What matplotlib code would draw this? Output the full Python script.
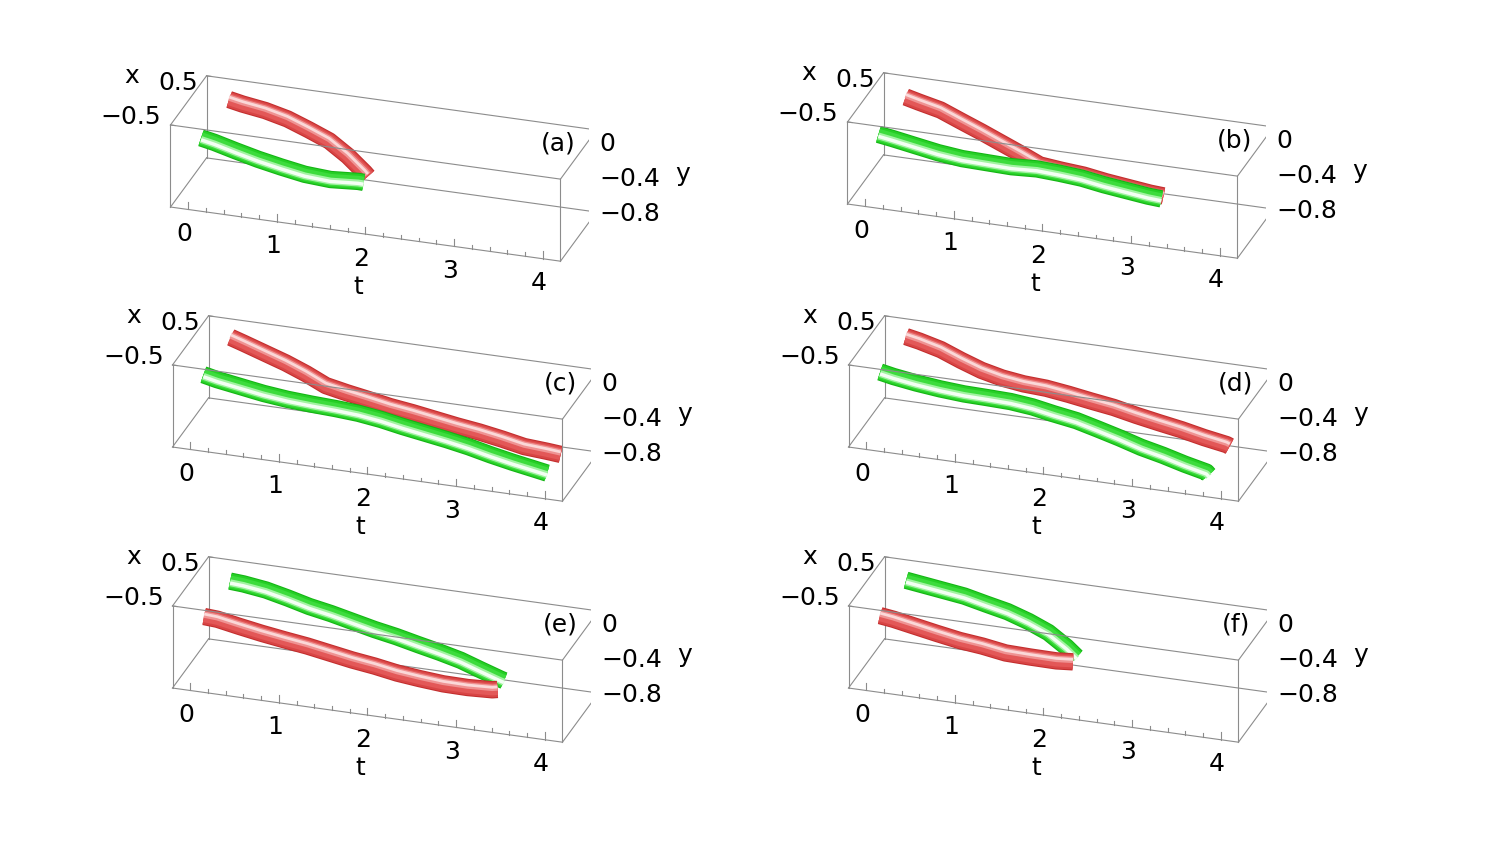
import numpy as np
import matplotlib
matplotlib.use("Agg")
import matplotlib.pyplot as plt
from mpl_toolkits.mplot3d import proj3d

# six panels, two tubes each; both tubes share t and y, they sit at x = +h and x = -h
panel_names = ['(a)', '(b)', '(c)', '(d)', '(e)', '(f)']
back_tube = ['red', 'red', 'red', 'red', 'green', 'green']   # tube at x = +h

t_vals = [
    [0.1, 0.25, 0.5, 0.75, 1.0, 1.25, 1.5, 1.75, 1.80],
    [0.1, 0.25, 0.5, 0.75, 1.0, 1.25, 1.5, 1.75, 2.0, 2.25, 2.5, 2.75, 3.0, 3.15],
    [0.1, 0.25, 0.5, 0.75, 1.0, 1.25, 1.5, 1.75, 2.0, 2.25, 2.5, 2.75, 3.0, 3.25, 3.5, 3.75, 3.90],
    [0.1, 0.25, 0.5, 0.75, 1.0, 1.25, 1.5, 1.75, 2.0, 2.25, 2.5, 2.75, 3.0, 3.25, 3.5, 3.75, 3.78],
    [0.1, 0.25, 0.5, 0.75, 1.0, 1.25, 1.5, 1.75, 2.0, 2.25, 2.5, 2.75, 3.0, 3.25, 3.30],
    [0.1, 0.25, 0.5, 0.75, 1.0, 1.25, 1.5, 1.75, 2.0, 2.15],
]
half_gap = [
    [0.39, 0.39, 0.41, 0.41, 0.38, 0.34, 0.24, 0.09, 0.06],
    [0.38, 0.37, 0.36, 0.32, 0.27, 0.20, 0.13, 0.04, 0.03, 0.03, 0.03, 0.03, 0.03, 0.03],
    [0.38, 0.37, 0.34, 0.31, 0.26, 0.19, 0.16, 0.14, 0.13, 0.14, 0.14, 0.14, 0.15, 0.16, 0.16, 0.18, 0.19],
    [0.36, 0.36, 0.34, 0.29, 0.24, 0.20, 0.18, 0.19, 0.20, 0.20, 0.22, 0.23, 0.25, 0.26, 0.27, 0.28, 0.29],
    [0.36, 0.36, 0.37, 0.36, 0.34, 0.33, 0.32, 0.31, 0.30, 0.29, 0.27, 0.24, 0.18, 0.11, 0.09],
    [0.36, 0.36, 0.37, 0.38, 0.37, 0.35, 0.32, 0.25, 0.14, 0.05],
]
y_vals = [
    [-0.06, -0.09, -0.14, -0.20, -0.27, -0.34, -0.42, -0.49, -0.51],
    [-0.06, -0.09, -0.14, -0.21, -0.27, -0.32, -0.37, -0.41, -0.43, -0.45, -0.49, -0.52, -0.55, -0.56],
    [-0.03, -0.07, -0.13, -0.19, -0.25, -0.31, -0.34, -0.37, -0.41, -0.45, -0.49, -0.53, -0.57, -0.62, -0.67, -0.70, -0.72],
    [-0.01, -0.04, -0.09, -0.15, -0.20, -0.23, -0.25, -0.27, -0.31, -0.35, -0.40, -0.46, -0.52, -0.57, -0.63, -0.68, -0.70],
    [-0.05, -0.06, -0.10, -0.15, -0.20, -0.24, -0.29, -0.34, -0.38, -0.43, -0.47, -0.51, -0.55, -0.58, -0.58],
    [-0.04, -0.06, -0.10, -0.14, -0.19, -0.23, -0.29, -0.34, -0.41, -0.45],
]

t_ticks = [0, 1, 2, 3, 4]
x_ticks = [-0.5, 0.5]
y_ticks = [0, -0.4, -0.8]
t_lim = (-0.2, 4.2)
x_lim = (-0.5, 0.5)
y_lim = (-0.824, 0.106)

W, H = 1495, 843
fig = plt.figure(figsize=(W / 100, H / 100), dpi=100)

# pixel centre of each projected box
box_centres = [(383.5, 168.5), (1060.5, 165.5), (385.5, 408.5),
               (1061.5, 408.5), (385.5, 649.5), (1061.5, 649.5)]
box_width = 426

# stacked strokes that fake the shaded tube: colour, width (pt), vertical shift
tube_layers = {
    'red': [('#c22e2e', 12.5, 0.0), ('#d84545', 11.0, 0.0), ('#e35858', 8.6, 0.004),
            ('#ef9393', 4.6, 0.022), ('#fbd8d8', 2.0, 0.028)],
    'green': [('#14b414', 12.5, 0.0), ('#25cf25', 11.0, 0.0), ('#3ddc3d', 8.6, -0.004),
              ('#a2f3a2', 5.0, -0.018), ('#f4fff4', 2.5, -0.022)],
}
edge_kw = dict(color='#8c8c8c', lw=0.8)
txt_kw = dict(fontsize=18, family='DejaVu Sans')


def fmt(v):
    return f"{v:g}".replace('-', '\u2212')


def fit_box(ax, centre):
    corners = np.array([(a, b, c) for a in t_lim for b in x_lim for c in y_lim])
    fig.canvas.draw()
    X2, Y2, _ = proj3d.proj_transform(corners[:, 0], corners[:, 1], corners[:, 2], ax.get_proj())
    pts = ax.transData.transform(np.column_stack([X2, Y2]))
    bb = ax.get_position()
    cx, cy = (bb.x0 + bb.width / 2) * W, (bb.y0 + bb.height / 2) * H
    s = box_width / (pts[:, 0].max() - pts[:, 0].min())
    size = bb.width * W * s
    mx, my = pts.mean(axis=0)
    ncx = centre[0] - (mx - cx) * s
    ncy = (H - centre[1]) - (my - cy) * s
    ax.set_position([(ncx - size / 2) / W, (ncy - size / 2) / H, size / W, size / H])


def label(ax, t, x, y, s, dx, dy, **kw):
    X2, Y2, _ = proj3d.proj_transform(t, x, y, ax.get_proj())
    ax.annotate(s, xy=(X2, Y2), xycoords='data', xytext=(dx, dy),
                textcoords='offset pixels', annotation_clip=False, **txt_kw, **kw)


for i in range(6):
    cxp, cyp = box_centres[i]
    ax = fig.add_axes([(cxp - 280) / W, 1 - (cyp + 280) / H, 560 / W, 560 / H],
                      projection='3d', computed_zorder=False)
    ax.set_proj_type('ortho')
    ax.view_init(elev=25.8, azim=-72.3)
    ax.set_box_aspect((4.49, 1.30, 1.0))
    ax.set_axis_off()
    ax.set_facecolor('none')

    t = np.array(t_vals[i])
    h = np.array(half_gap[i])
    y = np.array(y_vals[i])
    front = 'green' if back_tube[i] == 'red' else 'red'
    z = 2
    for name, xs in [(back_tube[i], h), (front, -h)]:
        for col, lw, dy in tube_layers[name]:
            ax.plot(t, xs, y + dy, color=col, lw=lw, solid_capstyle='butt',
                    solid_joinstyle='round', zorder=z)
            z += 1

    # box edges; the three meeting at the hidden corner go behind the tubes
    hidden = (t_lim[0], x_lim[1], y_lim[0])
    for a in t_lim:
        for b in x_lim:
            ax.plot([a, a], [b, b], y_lim, zorder=1 if (a, b) == hidden[:2] else 20, **edge_kw)
    for a in t_lim:
        for c in y_lim:
            ax.plot([a, a], x_lim, [c, c], zorder=1 if (a, c) == (hidden[0], hidden[2]) else 20, **edge_kw)
    for b in x_lim:
        for c in y_lim:
            ax.plot(t_lim, [b, b], [c, c], zorder=1 if (b, c) == hidden[1:] else 20, **edge_kw)

    # t ticks on the front bottom edge
    for k in range(0, 21):
        tv = k * 0.2
        ln = 0.085 if k % 5 == 0 else 0.045
        ax.plot([tv, tv], [x_lim[0]] * 2, [y_lim[0], y_lim[0] + ln], zorder=20, **edge_kw)
    # y ticks on the back right edge, x ticks on the left top edge
    for yv in y_ticks:
        ax.plot([t_lim[1], t_lim[1] - 0.05], [x_lim[1]] * 2, [yv, yv], zorder=20, **edge_kw)
    for xv in x_ticks:
        ax.plot([t_lim[0], t_lim[0] + 0.05], [xv, xv], [y_lim[1]] * 2, zorder=20, **edge_kw)

    ax.set_xlim(t_lim)
    ax.set_ylim(x_lim)
    ax.set_zlim(y_lim)

    fit_box(ax, box_centres[i])

    for tv in t_ticks:
        label(ax, tv, x_lim[0], y_lim[0], fmt(tv), -4, -24.5, ha='center', va='center')
    label(ax, 2, x_lim[0], y_lim[0], 't', -7.5, -53, ha='center', va='center')
    label(ax, t_lim[0], x_lim[1], y_lim[1], fmt(0.5), -9, -7, ha='right', va='center')
    label(ax, t_lim[0], x_lim[0], y_lim[1], fmt(-0.5), -9, 8, ha='right', va='center')
    label(ax, t_lim[0], x_lim[1], y_lim[1], 'x', -75, 0, ha='center', va='center')
    for yv in y_ticks:
        label(ax, t_lim[1], x_lim[1], yv, fmt(yv), 3, -4.5, ha='left', va='center')
    label(ax, t_lim[1], x_lim[1], -0.4, 'y', 86, 1, ha='center', va='center')
    label(ax, t_lim[1], x_lim[1], y_lim[1], panel_names[i], -38.5, -14, ha='center', va='center')

fig.savefig("out.png", dpi=100)
